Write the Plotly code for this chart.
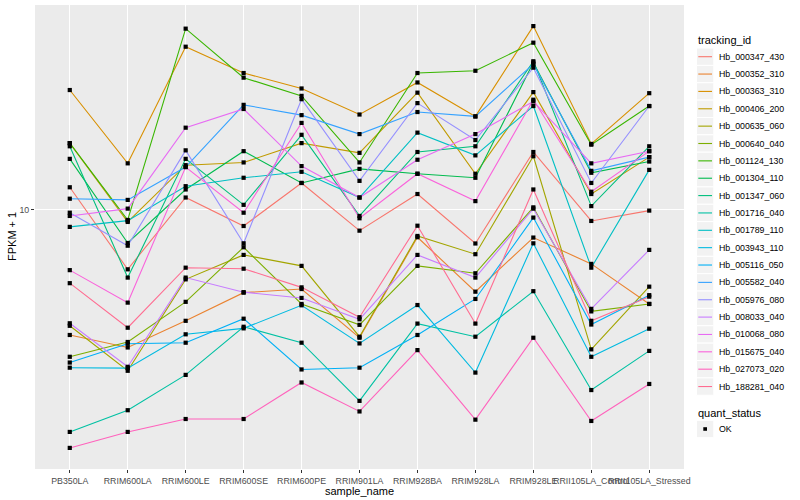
import math
import plotly.graph_objects as go

samples = ["PB350LA", "RRIM600LA", "RRIM600LE", "RRIM600SE", "RRIM600PE", "RRIM901LA",
           "RRIM928BA", "RRIM928LA", "RRIM928LE", "RRII105LA_Control", "RRII105LA_Stressed"]

tracking_ids = ["Hb_000347_430", "Hb_000352_310", "Hb_000363_310", "Hb_000406_200", "Hb_000635_060",
                "Hb_000640_040", "Hb_001124_130", "Hb_001304_110", "Hb_001347_060", "Hb_001716_040",
                "Hb_001789_110", "Hb_003943_110", "Hb_005116_050", "Hb_005582_040", "Hb_005976_080",
                "Hb_008033_040", "Hb_010068_080", "Hb_015675_040", "Hb_027073_020", "Hb_188281_040"]

colors = ["#F8766D", "#EA8331", "#D89000", "#C09B00", "#A3A500", "#7CAE00", "#39B600", "#00BB4E",
          "#00BF7D", "#00C1A3", "#00BFC4", "#00BAE0", "#00B0F6", "#35A2FF", "#9590FF", "#C77CFF",
          "#E76BF3", "#FA62DB", "#FF62BC", "#FF6C91"]

Hb_000347_430 = [11.9, 6.34, 11.0, 8.84, 12.3, 8.53, 11.3, 7.73, 15.6, 9.19, 9.95]
Hb_000352_310 = [3.83, 3.48, 4.27, 5.30, 5.45, 3.75, 8.11, 5.34, 8.09, 6.61, 4.86]
Hb_000363_310 = [25.1, 14.3, 35.0, 28.6, 25.4, 20.8, 26.6, 20.5, 41.0, 16.6, 24.5]
Hb_000406_200 = [16.7, 9.12, 14.1, 14.4, 16.7, 15.5, 24.6, 13.2, 24.7, 11.3, 15.0]
Hb_000635_060 = [4.11, 2.91, 5.87, 7.08, 6.51, 3.78, 8.19, 7.12, 15.1, 3.43, 5.55]
Hb_000640_040 = [3.24, 3.63, 4.94, 7.51, 4.86, 4.14, 6.51, 6.15, 10.2, 4.59, 4.86]
Hb_001124_130 = [16.7, 9.26, 40.2, 27.6, 24.0, 14.4, 28.6, 29.1, 36.1, 16.5, 22.2]
Hb_001304_110 = [14.8, 7.76, 11.7, 15.7, 12.3, 13.7, 13.2, 12.8, 31.0, 13.3, 14.5]
Hb_001347_060 = [16.3, 5.95, 14.8, 10.4, 17.8, 9.55, 15.6, 16.3, 31.3, 10.3, 16.3]
Hb_001716_040 = [1.82, 2.15, 2.82, 4.08, 3.61, 2.31, 4.18, 3.78, 5.36, 2.51, 3.39]
Hb_001789_110 = [8.78, 9.21, 12.0, 12.8, 13.4, 11.0, 18.1, 15.2, 22.2, 6.42, 13.6]
Hb_003943_110 = [2.98, 2.97, 3.85, 4.03, 4.81, 3.59, 4.82, 2.87, 7.74, 3.24, 4.02]
Hb_005116_050 = [3.10, 3.58, 3.61, 4.34, 2.94, 2.98, 3.83, 5.05, 9.43, 4.15, 5.20]
Hb_005582_040 = [10.9, 10.8, 13.9, 22.4, 20.7, 17.9, 21.2, 20.5, 30.6, 13.5, 15.0]
Hb_005976_080 = [9.79, 7.60, 15.8, 7.74, 23.4, 12.5, 22.7, 17.1, 29.8, 12.3, 22.2]
Hb_008033_040 = [4.19, 3.00, 5.95, 5.32, 5.09, 4.32, 7.08, 5.95, 10.1, 4.68, 7.36]
Hb_010068_080 = [9.55, 10.1, 18.8, 21.7, 14.0, 11.0, 14.7, 17.9, 23.0, 14.3, 15.7]
Hb_015675_040 = [6.30, 4.91, 13.9, 9.79, 19.5, 9.38, 13.2, 10.7, 23.3, 11.5, 15.7]
Hb_027073_020 = [1.61, 1.82, 2.01, 2.01, 2.66, 2.13, 3.41, 2.00, 3.75, 1.98, 2.63]
Hb_188281_040 = [5.70, 4.05, 6.42, 6.37, 5.52, 4.39, 8.86, 4.18, 11.7, 4.27, 5.14]

series = [Hb_000347_430, Hb_000352_310, Hb_000363_310, Hb_000406_200, Hb_000635_060,
          Hb_000640_040, Hb_001124_130, Hb_001304_110, Hb_001347_060, Hb_001716_040,
          Hb_001789_110, Hb_003943_110, Hb_005116_050, Hb_005582_040, Hb_005976_080,
          Hb_008033_040, Hb_010068_080, Hb_015675_040, Hb_027073_020, Hb_188281_040]

y_ticks = [10]
quant_levels = ["OK"]

FONT = "Liberation Sans, Arial, sans-serif"
W, H = 800, 500
ML, MR, MT, MB = 35, 116, 5, 31
PW, PH = W - ML - MR, H - MT - MB


def px(x):
    return (x - ML) / PW


def py(y):
    return (H - MB - y) / PH


fig = go.Figure()

# lines first (ggplot draws all lines, then all points)
for name, col, vals in zip(tracking_ids, colors, series):
    fig.add_trace(go.Scatter(x=samples, y=vals, mode="lines", name=name,
                             line=dict(color=col, width=1.1), showlegend=False,
                             hoverinfo="skip"))
for name, vals in zip(tracking_ids, series):
    fig.add_trace(go.Scatter(x=samples, y=vals, mode="markers", name=name,
                             marker=dict(symbol="square", size=4.2, color="black",
                                         line=dict(width=0)),
                             showlegend=False))

allv = [v for s in series for v in s]
lo, hi = math.log10(min(allv)), math.log10(max(allv))
span = hi - lo

fig.update_layout(
    width=W, height=H,
    margin=dict(l=ML, r=MR, t=MT, b=MB, autoexpand=False),
    paper_bgcolor="white", plot_bgcolor="#EBEBEB",
    font=dict(family=FONT, color="black"),
    showlegend=False,
)
fig.update_xaxes(type="category", categoryorder="array", categoryarray=samples,
                 range=[-0.6, len(samples) - 0.4], showgrid=True, gridcolor="white",
                 gridwidth=1.1, zeroline=False, showline=False, ticks="outside",
                 ticklen=3, tickwidth=1.1, tickcolor="#333333", tickangle=0,
                 tickfont=dict(size=8.8, color="#4D4D4D", family=FONT))
fig.update_yaxes(type="log", range=[lo - 0.05 * span, hi + 0.05 * span],
                 tickmode="array", tickvals=y_ticks, ticktext=[str(t) for t in y_ticks],
                 showgrid=True, gridcolor="white", gridwidth=1.1, zeroline=False,
                 showline=False, ticks="outside", ticklen=3, tickwidth=1.1,
                 tickcolor="#333333", tickfont=dict(size=8.8, color="#4D4D4D", family=FONT))


def label(text, x, y, size=11, xanchor="left", angle=0):
    return dict(text=text, x=x, y=y, xref="paper", yref="paper", xanchor=xanchor,
                yanchor="middle", textangle=angle, showarrow=False,
                font=dict(size=size, color="black", family=FONT))


annotations = [
    label("sample_name", px(359.5), py(490.5), xanchor="center"),
    label("FPKM + 1", px(12), py(237), xanchor="center", angle=-90),
    label("tracking_id", px(696), py(40.5)),
    label("quant_status", px(696), py(412.5)),
]
shapes = []
step = 17.36
for i, (name, col) in enumerate(zip(tracking_ids, colors)):
    yc = 56.7 + step * i
    shapes.append(dict(type="rect", xref="paper", yref="paper", x0=px(696.5), x1=px(713.8),
                       y0=py(yc - step / 2), y1=py(yc + step / 2), fillcolor="#F2F2F2",
                       line=dict(color="white", width=1), layer="above"))
    shapes.append(dict(type="line", xref="paper", yref="paper", x0=px(698.3), x1=px(712),
                       y0=py(yc), y1=py(yc), line=dict(color=col, width=1.1), layer="above"))
    annotations.append(label(name, px(716.5), py(yc), size=8.8))

for j, lev in enumerate(quant_levels):
    yc = 429 + step * j
    shapes.append(dict(type="rect", xref="paper", yref="paper", x0=px(696.5), x1=px(713.8),
                       y0=py(yc - step / 2), y1=py(yc + step / 2), fillcolor="#F2F2F2",
                       line=dict(color="white", width=1), layer="above"))
    shapes.append(dict(type="rect", xref="paper", yref="paper", x0=px(703.3), x1=px(707),
                       y0=py(yc - 1.8), y1=py(yc + 1.8), fillcolor="black",
                       line=dict(width=0), layer="above"))
    annotations.append(label(lev, px(716.5), py(yc), size=8.8))

fig.update_layout(annotations=annotations, shapes=shapes)
fig.write_html("out.html", config={"displayModeBar": False},
               post_script="document.body.style.margin='0';document.body.style.padding='0';")
